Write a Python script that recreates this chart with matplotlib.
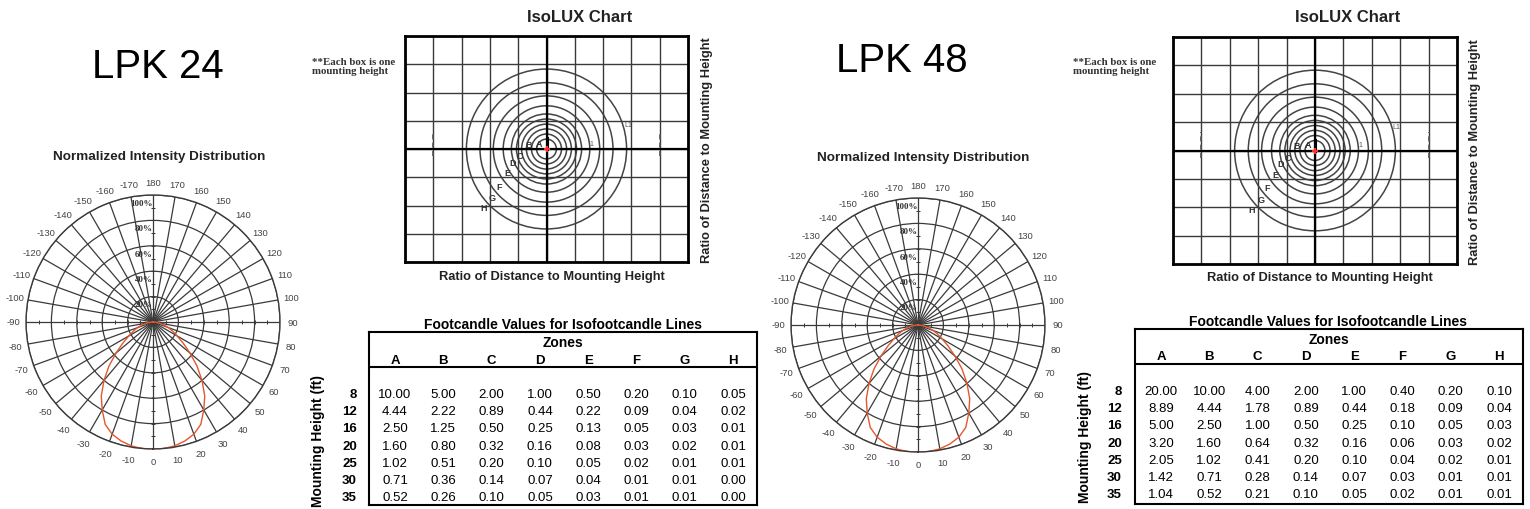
import numpy as np
import matplotlib
matplotlib.use('Agg')
import matplotlib.pyplot as plt
from matplotlib.patches import Circle

W, H = 1530, 510
fig = plt.figure(figsize=(W / 100, H / 100), dpi=100)
fig.patch.set_facecolor('white')

SANS = ['Liberation Sans', 'DejaVu Sans']
NARROW = ['Liberation Sans Narrow', 'Liberation Sans', 'DejaVu Sans']
SERIF = ['Liberation Serif', 'DejaVu Serif']

# ---------------- data ----------------
models = ['LPK 24', 'LPK 48']

# normalized intensity (%) vs angle from nadir (deg), symmetric lobe
angles_deg = [0, 5, 10, 15, 20, 25, 30, 35, 40, 45, 50, 55, 60, 65, 70, 75, 80, 85, 90]
intensity_24 = [100, 100, 99, 97, 94, 89, 80, 71, 60, 49, 38, 29, 22, 17, 13, 9, 5, 2, 0]
intensity_48 = [100, 100, 99, 97, 94, 89, 80, 71, 60, 49, 38, 29, 22, 17, 13, 9, 5, 2, 0]

pct_rings = [20, 40, 60, 80, 100]
pct_labels = ['20%', '40%', '60%', '80%', '100%']
theta_ticks = list(range(0, 360, 10))
theta_labels = [str(a) if a <= 180 else str(a - 360) for a in theta_ticks]

# isolux chart: circle radii (mounting heights) and zone labels
iso_radii = [0.35, 0.53, 0.71, 0.88, 1.06, 1.24, 1.53, 1.88, 2.35, 2.83]
iso_zone_labels = ['A', 'B', 'C', 'D', 'E', 'F', 'G', 'H']
iso_label_r = [0.32, 0.66, 0.98, 1.30, 1.62, 2.14, 2.57, 3.03]
iso_label_ang = [142, 165, 194, 201, 211, 218, 222, 223]

# footcandle tables
zones = ['A', 'B', 'C', 'D', 'E', 'F', 'G', 'H']
heights = [8, 12, 16, 20, 25, 30, 35]
fc_24 = [
    [10.00, 5.00, 2.00, 1.00, 0.50, 0.20, 0.10, 0.05],
    [4.44, 2.22, 0.89, 0.44, 0.22, 0.09, 0.04, 0.02],
    [2.50, 1.25, 0.50, 0.25, 0.13, 0.05, 0.03, 0.01],
    [1.60, 0.80, 0.32, 0.16, 0.08, 0.03, 0.02, 0.01],
    [1.02, 0.51, 0.20, 0.10, 0.05, 0.02, 0.01, 0.01],
    [0.71, 0.36, 0.14, 0.07, 0.04, 0.01, 0.01, 0.00],
    [0.52, 0.26, 0.10, 0.05, 0.03, 0.01, 0.01, 0.00],
]
fc_48 = [
    [20.00, 10.00, 4.00, 2.00, 1.00, 0.40, 0.20, 0.10],
    [8.89, 4.44, 1.78, 0.89, 0.44, 0.18, 0.09, 0.04],
    [5.00, 2.50, 1.00, 0.50, 0.25, 0.10, 0.05, 0.03],
    [3.20, 1.60, 0.64, 0.32, 0.16, 0.06, 0.03, 0.02],
    [2.05, 1.02, 0.41, 0.20, 0.10, 0.04, 0.02, 0.01],
    [1.42, 0.71, 0.28, 0.14, 0.07, 0.03, 0.01, 0.01],
    [1.04, 0.52, 0.21, 0.10, 0.05, 0.02, 0.01, 0.01],
]


# ---------------- helpers ----------------
def rect(x, y, w, h):
    return [x / W, 1 - (y + h) / H, w / W, h / H]


def ftext(x, y, s, **kw):
    return fig.text(x / W, 1 - y / H, s, **kw)


GRID = '#3a3a3a'


def polar_panel(cx, cy, rad, intensity):
    ax = fig.add_axes(rect(cx - rad, cy - rad, 2 * rad, 2 * rad), projection='polar')
    ax.set_theta_zero_location('S')
    ax.set_theta_direction(1)
    ax.set_ylim(0, 100)
    ax.set_rgrids(pct_rings, labels=[''] * len(pct_rings))
    ax.set_thetagrids(theta_ticks, theta_labels, fontsize=6.8, family=NARROW, color='#444')
    ax.set_xticks(np.deg2rad(np.arange(0, 360, 5)), minor=True)
    ax.tick_params(axis='x', which='both', pad=1.0, length=2.5, color=GRID, direction='inout')
    ax.grid(True, color=GRID, lw=0.9)
    ax.spines['polar'].set_color(GRID)
    ax.spines['polar'].set_linewidth(1.0)
    # minor ticks along the main axes
    rt = np.arange(10, 100, 10)
    for ang, m in [(90, '|'), (-90, '|'), (0, '_'), (180, '_')]:
        ax.plot(np.full(rt.shape, np.deg2rad(ang)), rt, ls='none', marker=m, ms=3.5,
                mew=0.7, color=GRID)
    for p, lab in zip(pct_rings, pct_labels):
        ax.text(np.pi, p - 3, lab, ha='right', va='top', fontsize=6.5, family=SERIF,
                weight='bold', color='#333')
    ang = np.array(angles_deg, dtype=float)
    val = np.array(intensity, dtype=float)
    th = np.concatenate([-ang[::-1], ang[1:]])
    rr = np.concatenate([val[::-1], val[1:]])
    ax.plot(np.deg2rad(th), rr, color='#e4572e', lw=1.0)
    return ax


def isolux_panel(x0, y0, w, h):
    ax = fig.add_axes(rect(x0, y0, w, h))
    ax.set_xlim(-5, 5)
    ax.set_ylim(-4, 4)
    ax.set_xticks(range(-5, 6))
    ax.set_yticks(range(-4, 5))
    ax.tick_params(length=0, labelbottom=False, labelleft=False)
    ax.grid(True, color=GRID, lw=1.0)
    ax.axhline(0, color='black', lw=1.6)
    ax.axvline(0, color='black', lw=1.6)
    for s in ax.spines.values():
        s.set_linewidth(2.0)
        s.set_color('black')
    for r in iso_radii:
        ax.add_patch(Circle((0, 0), r, fill=False, ec='#444', lw=1.1))
    for lab, r, a in zip(iso_zone_labels, iso_label_r, iso_label_ang):
        ax.text(r * np.cos(np.deg2rad(a)), r * np.sin(np.deg2rad(a)), lab, ha='center',
                va='center', fontsize=6.5, weight='bold', family=SANS, color='#333')
    ax.plot([0, 0], [0, 0.38], color='black', lw=2.2)
    ax.plot([0], [0], marker='+', color='#ff3030', ms=5, mew=1.5)
    for xs in (-4, 4):
        ax.plot([xs, xs], [-0.25, 0.65], color='#555', lw=1.2, ls=(0, (3, 2)))
    ax.text(1.6, 0.2, '1', fontsize=5, color='#555', ha='center', va='center', family=SANS)
    ax.text(2.88, 0.85, 'L1', fontsize=5, color='#555', ha='center', va='center', family=SANS)
    return ax


def table_panel(x0, y0, w, h, values, title_xy, title_y, label_dx, ylabel_xy):
    ax = fig.add_axes(rect(x0, y0, w, h))
    ax.set_xlim(0, w)
    ax.set_ylim(h, 0)
    ax.set_xticks([])
    ax.set_yticks([])
    for s in ax.spines.values():
        s.set_linewidth(1.5)
    ax.axhline(35, color='black', lw=1.5)
    ax.text(w / 2, 10, 'Zones', ha='center', va='center', fontsize=10, weight='bold', family=SANS)
    col_x = [26 + i * 48.3 for i in range(len(zones))]
    row_y = [62 + j * 17.2 for j in range(len(heights))]
    for cx, z in zip(col_x, zones):
        ax.text(cx, title_y, z, ha='center', va='center', fontsize=9.5, weight='bold', family=SANS)
    for ry, hgt, row in zip(row_y, heights, values):
        ax.text(label_dx, ry, str(hgt), ha='right', va='center', fontsize=9.5, weight='bold',
                family=SANS, clip_on=False)
        for cx, v in zip(col_x, row):
            ax.text(cx, ry, f'{v:.2f}', ha='center', va='center', fontsize=9.5, family=SANS)
    ftext(title_xy[0], title_xy[1], 'Footcandle Values for Isofootcandle Lines', ha='center',
          va='center', fontsize=10, weight='bold', family=SANS)
    ftext(ylabel_xy[0], ylabel_xy[1], 'Mounting Height (ft)', ha='center', va='center',
          rotation=90, fontsize=10, weight='bold', family=SANS)
    return ax


# ---------------- left block: LPK 24 ----------------
ftext(158, 78, models[0], ha='center', va='baseline', fontsize=29, family=SANS)
ftext(159, 157, 'Normalized Intensity Distribution', ha='center', va='center', fontsize=9.7,
      weight='bold', family=SANS, color='#222')
polar_panel(153, 323, 127, intensity_24)

ftext(580, 17, 'IsoLUX Chart', ha='center', va='center', fontsize=12, weight='bold', family=SANS,
      color='#222')
ftext(312, 67, '**Each box is one\nmounting height', ha='left', va='center', fontsize=7.8,
      weight='bold', family=SERIF, color='#333', linespacing=1.05)
isolux_panel(405, 37, 283, 226)
ftext(552, 277, 'Ratio of Distance to Mounting Height', ha='center', va='center', fontsize=9.3,
      weight='bold', family=SANS, color='#222')
ftext(707, 150, 'Ratio of Distance to Mounting Height', ha='center', va='center', rotation=90,
      fontsize=9.3, weight='bold', family=SANS, color='#222')
table_panel(369, 333, 388, 173, fc_24, (563, 325), 28, -12, (318, 441))

# ---------------- right block: LPK 48 ----------------
ftext(902, 72, models[1], ha='center', va='baseline', fontsize=29, family=SANS)
ftext(923, 158, 'Normalized Intensity Distribution', ha='center', va='center', fontsize=9.7,
      weight='bold', family=SANS, color='#222')
polar_panel(918, 326, 127, intensity_48)

ftext(1348, 17, 'IsoLUX Chart', ha='center', va='center', fontsize=12, weight='bold', family=SANS,
      color='#222')
ftext(1073, 67, '**Each box is one\nmounting height', ha='left', va='center', fontsize=7.8,
      weight='bold', family=SERIF, color='#333', linespacing=1.05)
isolux_panel(1173, 38, 284, 227)
ftext(1320, 278, 'Ratio of Distance to Mounting Height', ha='center', va='center', fontsize=9.3,
      weight='bold', family=SANS, color='#222')
ftext(1475, 152, 'Ratio of Distance to Mounting Height', ha='center', va='center', rotation=90,
      fontsize=9.3, weight='bold', family=SANS, color='#222')
table_panel(1135, 330, 388, 175, fc_48, (1328, 322), 27, -13, (1085, 437))

fig.savefig('out.png', dpi=100, facecolor='white')
